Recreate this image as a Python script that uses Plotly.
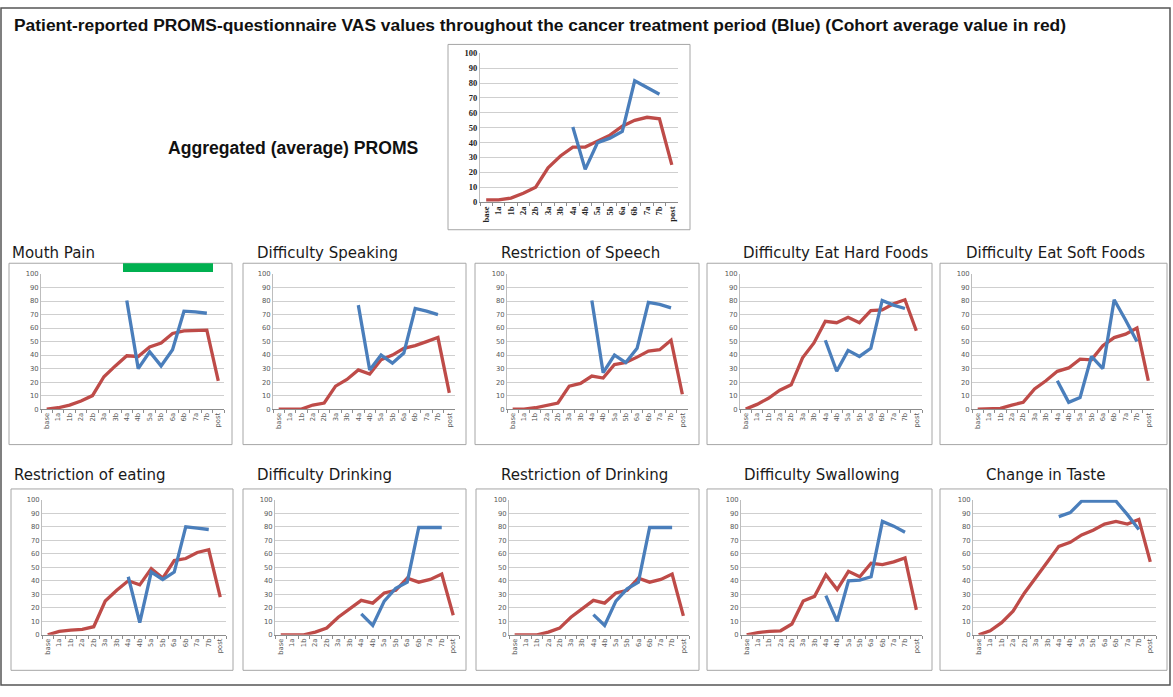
import plotly.graph_objects as go

W, H = 1173, 697

categories = ["base", "1a", "1b", "2a", "2b", "3a", "3b", "4a", "4b",
              "5a", "5b", "6a", "6b", "7a", "7b", "post"]
y_ticks = [0, 10, 20, 30, 40, 50, 60, 70, 80, 90, 100]

N = None
# Cohort average (red) and patient (blue) values per chart
aggregated_avg = [1.5, 1.5, 2.7, 6, 10, 23, 31, 37, 37, 41, 45, 51, 55, 57, 56, 25]
aggregated_pat = [N, N, N, N, N, N, N, 50.5, 22, 40, 43, 47.5, 81.5, 77, 72.5, N]

mouth_pain_avg = [0, 1, 3, 6, 10, 24, 32, 39.5, 39, 46, 49, 56, 58, 58, 58.5, 21]
mouth_pain_pat = [N, N, N, N, N, N, N, 80.5, 30, 42.5, 32, 44, 72.5, 72, 71, N]

diff_speaking_avg = [0, 0, 0, 3, 4.5, 17, 22, 29, 26, 36.5, 40, 45, 47, 50, 53, 12]
diff_speaking_pat = [N, N, N, N, N, N, N, 77, 29, 40, 34, 41.5, 74.5, 72.5, 70, N]

restr_speech_avg = [0, 0, 1, 3, 4.5, 17, 19, 24.5, 23, 33, 34.5, 38.5, 43, 44, 51, 11]
restr_speech_pat = [N, N, N, N, N, N, N, 80.5, 27, 40, 34.5, 45, 79, 77.5, 75, N]

hard_foods_avg = [0, 3.5, 8, 14, 18, 38, 49, 65, 64, 68, 64, 73, 73.5, 78, 81, 58]
hard_foods_pat = [N, N, N, N, N, N, N, 51, 28, 43.5, 39, 45, 80.5, 77, 74.5, N]

soft_foods_avg = [0, 0, 0.5, 3, 5, 15, 21, 28, 30.5, 37, 36.5, 47, 53, 55.5, 60, 21]
soft_foods_pat = [N, N, N, N, N, N, N, 21, 5, 8.5, 39, 30, 81, 66, 50, N]

restr_eating_avg = [0, 2.5, 3.5, 4, 6, 25, 33, 40, 37, 49, 42, 55, 56.5, 61, 63, 28]
restr_eating_pat = [N, N, N, N, N, N, N, 43, 9, 46.5, 41, 46.5, 80, 79, 78, N]

diff_drinking_avg = [0, 0, 0, 2, 5, 13, 19, 25.5, 23.5, 31, 33, 42, 39, 41, 45, 14.5]
diff_drinking_pat = [N, N, N, N, N, N, N, 15.5, 7, 25, 34.5, 39, 79.5, 79.5, 79.5, N]

restr_drinking_avg = [0, 0, 0, 2, 5, 13, 19, 25.5, 23.5, 31, 33, 42, 39, 41, 45, 14]
restr_drinking_pat = [N, N, N, N, N, N, N, 15, 7, 25, 34, 39, 79.5, 79.5, 79.5, N]

swallowing_avg = [0, 1.7, 2.5, 3, 8, 25, 28.5, 44.5, 33.5, 47, 43, 53, 52, 54, 57, 18.5]
swallowing_pat = [N, N, N, N, N, N, N, 29, 10, 40, 40.5, 43, 84, 80.5, 76, N]

taste_avg = [0, 3, 9, 17.5, 31, 43, 54, 65.5, 68.5, 74, 77.5, 82, 84, 82, 85.5, 54]
taste_pat = [N, N, N, N, N, N, N, 87.5, 90.5, 99, 99, 99, 99, 89, 78, N]

chart_titles = ["Mouth Pain", "Difficulty Speaking", "Restriction of Speech",
                "Difficulty Eat Hard Foods", "Difficulty Eat Soft Foods",
                "Restriction of eating", "Difficulty Drinking", "Restriction of Drinking",
                "Difficulty Swallowing", "Change in Taste"]
main_title = ("Patient-reported PROMS-questionnaire VAS values throughout the cancer "
              "treatment period (Blue) (Cohort average value in red)")
agg_label = "Aggregated (average) PROMS"

series = [
    (aggregated_avg, aggregated_pat),
    (mouth_pain_avg, mouth_pain_pat),
    (diff_speaking_avg, diff_speaking_pat),
    (restr_speech_avg, restr_speech_pat),
    (hard_foods_avg, hard_foods_pat),
    (soft_foods_avg, soft_foods_pat),
    (restr_eating_avg, restr_eating_pat),
    (diff_drinking_avg, diff_drinking_pat),
    (restr_drinking_avg, restr_drinking_pat),
    (swallowing_avg, swallowing_pat),
    (taste_avg, taste_pat),
]

# ---- layout geometry (pixels) ----
def xd(px):
    return px / W

def yd(py):
    return 1 - py / H

plot_areas = [
    (480, 678, 49, 200),
    (41, 224, 273, 410), (273, 455, 273, 410), (507, 688, 273, 410),
    (740, 922, 273, 410), (972, 1154, 273, 410),
    (42, 226, 502, 639), (275, 459, 502, 639), (509, 689, 502, 639),
    (741, 922, 502, 639), (973, 1156, 502, 639),
]
boxes = [
    (448, 690, 40, 228),
    (9, 232, 262, 446), (243, 466, 262, 446), (475, 699, 262, 446),
    (707, 932, 262, 446), (940, 1167, 262, 446),
    (11, 233, 491, 675), (243, 466, 491, 675), (476, 699, 491, 675),
    (707, 932, 491, 675), (940, 1167, 491, 675),
]
title_pos = [
    (10, 252), (255, 252), (499, 252), (741, 252), (964, 252),
    (12, 477), (255, 477), (499, 477), (742, 477), (984, 477),
]

BLUE = "#4a7ebb"
RED = "#be4b48"

fig = go.Figure()
layout = dict(
    width=W, height=H,
    margin=dict(l=0, r=0, t=0, b=0),
    paper_bgcolor="white", plot_bgcolor="white",
    showlegend=False,
    shapes=[], annotations=[],
)

for i, (avg, pat) in enumerate(series):
    k = i + 1
    xa = "x" if k == 1 else f"x{k}"
    ya = "y" if k == 1 else f"y{k}"
    top = (i == 0)
    fig.add_trace(go.Scatter(x=categories, y=avg, mode="lines", xaxis=xa, yaxis=ya,
                             line=dict(color=RED, width=3.3), cliponaxis=False,
                             hoverinfo="skip"))
    fig.add_trace(go.Scatter(x=categories, y=pat, mode="lines", xaxis=xa, yaxis=ya,
                             line=dict(color=BLUE, width=3.3), cliponaxis=False,
                             connectgaps=False, hoverinfo="skip"))
    x0, x1, y0, y1 = plot_areas[i]
    if top:
        tfont = dict(family="Liberation Serif", size=8.5, color="#222222", weight="bold")
    else:
        tfont = dict(family="DejaVu Sans", size=6.8, color="#595959")
    layout["xaxis" if k == 1 else f"xaxis{k}"] = dict(
        domain=[xd(x0), xd(x1)], anchor=ya, type="category",
        categoryorder="array", categoryarray=categories,
        range=[-0.5, len(categories) - 0.5],
        showgrid=False, showline=True, linecolor="#8c8c8c", linewidth=1,
        ticks="outside", tickson="boundaries", ticklen=3, tickcolor="#8c8c8c",
        tickangle=-90, tickfont=tfont, zeroline=False, fixedrange=True,
    )
    layout["yaxis" if k == 1 else f"yaxis{k}"] = dict(
        domain=[yd(y1), yd(y0)], anchor=xa, range=[0, 100],
        tickvals=y_ticks, showgrid=True, gridcolor="#cfcfcf", gridwidth=1,
        showline=True, linecolor="#bdbdbd", linewidth=1, ticks="",
        tickfont=tfont, zeroline=False, fixedrange=True,
    )
    bx0, bx1, by0, by1 = boxes[i]
    layout["shapes"].append(dict(type="rect", xref="paper", yref="paper",
                                 x0=xd(bx0), x1=xd(bx1), y0=yd(by1), y1=yd(by0),
                                 line=dict(color="#a6a6a6", width=1), layer="below"))

for (tx, ty), t in zip(title_pos, chart_titles):
    layout["annotations"].append(dict(
        text=t, x=xd(tx), y=yd(ty), xref="paper", yref="paper",
        xanchor="left", yanchor="middle", showarrow=False,
        font=dict(family="DejaVu Sans", size=15, color="#1a1a1a")))

layout["annotations"].append(dict(
    text=main_title, x=xd(12), y=yd(20), xref="paper", yref="paper",
    xanchor="left", yanchor="middle", showarrow=False,
    font=dict(family="Liberation Sans", size=17.4, color="#111111", weight="bold")))
layout["annotations"].append(dict(
    text=agg_label, x=xd(421), y=yd(145), xref="paper", yref="paper",
    xanchor="right", yanchor="middle", showarrow=False,
    font=dict(family="Liberation Sans", size=17.6, color="#111111", weight="bold")))

# outer frame
layout["shapes"].append(dict(type="rect", xref="paper", yref="paper",
                             x0=xd(1), x1=xd(1170), y0=yd(690), y1=yd(3),
                             line=dict(color="#555555", width=1.5), layer="below"))
# green marker bar on Mouth Pain chart
layout["shapes"].append(dict(type="rect", xref="paper", yref="paper",
                             x0=xd(123), x1=xd(213), y0=yd(271), y1=yd(262),
                             fillcolor="#00b050", line=dict(width=0), layer="above"))

fig.update_layout(**layout)
fig.write_html("out.html", config={"displayModeBar": False},
               post_script="document.body.style.margin='0';document.body.style.overflow='hidden';")
